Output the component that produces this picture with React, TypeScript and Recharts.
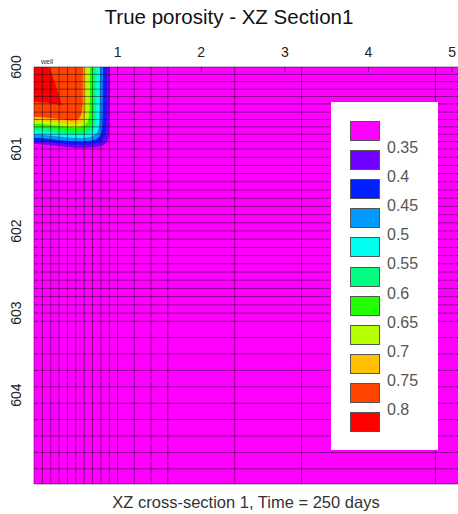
import { ComposedChart, Area, XAxis, YAxis, CartesianGrid, ReferenceLine, Legend } from 'recharts';

// grid cell edges (x = distance, y = depth)
const COLUMN_EDGES = [0, 0.1, 0.2, 0.3, 0.4, 0.5, 0.6, 0.7, 0.8, 0.9, 1.0, 1.2, 1.4, 1.6, 2.4, 3.2, 4.8];
const ROW_EDGES = [
  600, 600.09, 600.18, 600.27, 600.36, 600.45, 600.55, 600.64, 600.73, 600.82, 600.91, 601.0,
  601.1, 601.2, 601.3, 601.4, 601.5, 601.6, 601.7, 601.8, 601.9, 602.0,
  602.1, 602.2, 602.3, 602.4, 602.5, 602.6, 602.7, 602.8, 602.9, 603.0, 603.1,
  603.3, 603.5, 603.7, 603.9, 604.1, 604.3, 604.5, 604.7, 604.9, 605.085,
];
const X_TICKS = [1, 2, 3, 4, 5];
const Y_TICKS = [600, 601, 602, 603, 604];

// contour outlines of porosity >= level, as [x, depth]
const EDGE_035: [number, number][] = [[0, 600.937], [0.2, 600.95], [0.38, 600.977], [0.64, 600.99], [0.87, 600.96], [0.905, 600.85], [0.908, 600.3], [0.908, 600]];
const EDGE_040: [number, number][] = [[0, 600.9], [0.2, 600.912], [0.38, 600.94], [0.62, 600.953], [0.83, 600.92], [0.863, 600.81], [0.866, 600.3], [0.866, 600]];
const EDGE_045: [number, number][] = [[0, 600.864], [0.2, 600.876], [0.38, 600.902], [0.6, 600.915], [0.787, 600.884], [0.821, 600.77], [0.824, 600.3], [0.824, 600]];
const EDGE_050: [number, number][] = [[0, 600.821], [0.2, 600.833], [0.38, 600.86], [0.58, 600.873], [0.75, 600.842], [0.785, 600.73], [0.788, 600.3], [0.788, 600]];
const EDGE_055: [number, number][] = [[0, 600.779], [0.2, 600.79], [0.38, 600.817], [0.56, 600.83], [0.71, 600.8], [0.744, 600.69], [0.747, 600.3], [0.747, 600]];
const EDGE_060: [number, number][] = [[0, 600.736], [0.2, 600.748], [0.38, 600.774], [0.54, 600.787], [0.67, 600.757], [0.702, 600.65], [0.705, 600.3], [0.705, 600]];
const EDGE_065: [number, number][] = [[0, 600.693], [0.2, 600.705], [0.38, 600.731], [0.52, 600.744], [0.63, 600.714], [0.666, 600.61], [0.669, 600.3], [0.669, 600]];
const EDGE_070: [number, number][] = [[0, 600.651], [0.2, 600.662], [0.38, 600.688], [0.5, 600.7], [0.59, 600.672], [0.624, 600.57], [0.627, 600.3], [0.627, 600]];
const EDGE_075: [number, number][] = [[0, 600.608], [0.2, 600.62], [0.38, 600.645], [0.48, 600.657], [0.55, 600.63], [0.582, 600.53], [0.585, 600.3], [0.585, 600]];
// red patch (>0.8) near the well: [x, top, bottom]
const EDGE_080: [number, number, number][] = [[0, 600, 600.42], [0.18, 600, 600.44], [0.26, 600.22, 600.455], [0.33, 600.45, 600.47]];

const LEGEND_LABELS = ['0.35', '0.4', '0.45', '0.5', '0.55', '0.6', '0.65', '0.7', '0.75', '0.8'];
const LEGEND_COLORS = ['#FF00FF', '#7000FF', '#0020FF', '#0099FF', '#00FFEE', '#00FF80', '#22FF00', '#B4FF00', '#FFC000', '#FF4400', '#FF0000'];

const CONTOURS = [EDGE_035, EDGE_040, EDGE_045, EDGE_050, EDGE_055, EDGE_060, EDGE_065, EDGE_070, EDGE_075];

const FONT = '"Liberation Sans", Arial, sans-serif';

const YTick = ({ y, payload }: any) => (
  <text
    x={16}
    y={y}
    transform={`rotate(-90, 16, ${y})`}
    textAnchor="middle"
    dominantBaseline="central"
    fontSize={14}
    fontFamily={FONT}
    fill="#222"
  >
    {payload.value}
  </text>
);

const LegendBox = () => (
  <div style={{ width: 107, height: 348, background: '#fff', position: 'relative', fontFamily: FONT }}>
    {LEGEND_COLORS.map((c, i) => (
      <div
        key={c}
        style={{
          position: 'absolute',
          left: 19,
          top: 19 + i * 29.1,
          width: 28,
          height: 18,
          background: c,
          border: '1px solid #555',
        }}
      />
    ))}
    {LEGEND_LABELS.map((l, i) => (
      <div
        key={l}
        style={{ position: 'absolute', left: 56, top: 37 + i * 29.1, fontSize: 16, color: '#555', lineHeight: '18px' }}
      >
        {l}
      </div>
    ))}
  </div>
);

export default function App() {
  return (
    <div style={{ position: 'absolute', left: 0, top: 0, width: 458, height: 514, background: '#fff', fontFamily: FONT }}>
      <div style={{ position: 'absolute', top: 5, left: 0, width: 458, textAlign: 'center', fontSize: 20.5, color: '#111' }}>
        True porosity - XZ Section1
      </div>
      <div style={{ position: 'absolute', top: 58, left: 41, fontSize: 7, color: '#333' }}>well</div>
      <ComposedChart width={458} height={514} margin={{ top: 47, right: 0, bottom: 30, left: 0 }}>
        <CartesianGrid fill="#FF00FF" fillOpacity={1} stroke="none" horizontal={false} vertical={false} />
        <XAxis
          type="number"
          dataKey="x"
          orientation="top"
          domain={[0, 5.07]}
          allowDataOverflow
          ticks={X_TICKS}
          axisLine={false}
          tickLine={false}
          tickMargin={4}
          height={20}
          tick={{ fontSize: 14, fill: '#222', fontFamily: FONT }}
        />
        <YAxis
          type="number"
          domain={[600, 605.085]}
          allowDataOverflow
          reversed
          ticks={Y_TICKS}
          axisLine={false}
          tickLine={false}
          width={34}
          tick={<YTick />}
        />
        {CONTOURS.map((edge, i) => (
          <Area
            key={i}
            data={edge.map(([x, y]) => ({ x, y }))}
            dataKey="y"
            type="basis"
            baseValue={600}
            stroke="none"
            fill={LEGEND_COLORS[i + 1]}
            fillOpacity={1}
            dot={false}
            activeDot={false}
            isAnimationActive={false}
          />
        ))}
        <Area
          data={EDGE_080.map(([x, a, b]) => ({ x, range: [a, b] }))}
          dataKey="range"
          type="linear"
          stroke="none"
          fill={LEGEND_COLORS[10]}
          fillOpacity={1}
          dot={false}
          activeDot={false}
          isAnimationActive={false}
        />
        {COLUMN_EDGES.map(x => (
          <ReferenceLine key={'c' + x} x={x} stroke="#200020" strokeOpacity={0.5} strokeWidth={1} />
        ))}
        {ROW_EDGES.map(y => (
          <ReferenceLine key={'r' + y} y={y} stroke="#200020" strokeOpacity={0.5} strokeWidth={1} />
        ))}
        {X_TICKS.map(x => (
          <ReferenceLine key={'t' + x} segment={[{ x, y: 600 }, { x, y: 600.06 }]} stroke="#200020" strokeOpacity={0.5} />
        ))}
        <Legend
          layout="horizontal"
          verticalAlign="middle"
          content={<LegendBox />}
          wrapperStyle={{ position: 'absolute', left: 331, top: 102, width: 107, height: 348 }}
        />
      </ComposedChart>
      <div style={{ position: 'absolute', top: 493, left: 34, width: 424, textAlign: 'center', fontSize: 16.5, color: '#333' }}>
        XZ cross-section 1, Time = 250 days
      </div>
    </div>
  );
}
